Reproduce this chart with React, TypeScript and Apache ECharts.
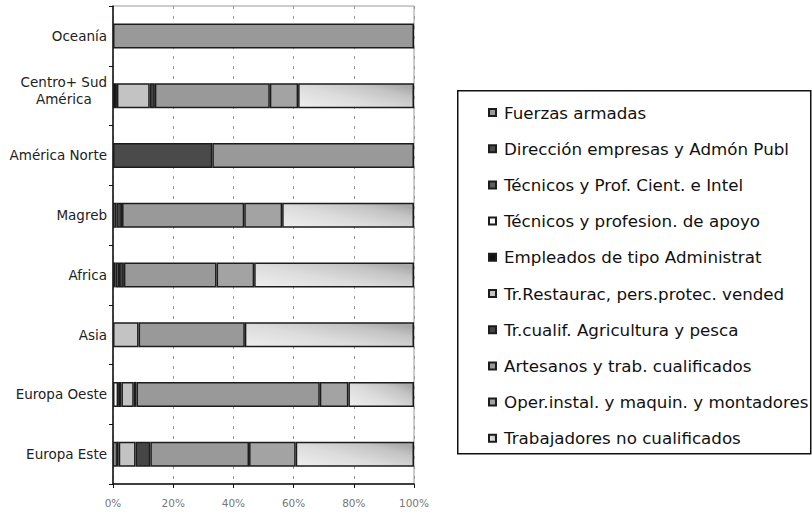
import React, { useEffect, useRef } from "react";
import * as echarts from "echarts";

// Regions, top to bottom
const categories = [
  "Oceanía",
  "Centro+ Sud\nAmérica",
  "América Norte",
  "Magreb",
  "Africa",
  "Asia",
  "Europa Oeste",
  "Europa Este",
];

// Occupation shares (%) per region, in the same order as categories
const fuerzasArmadas = [0, 0, 0, 0, 0, 0, 0, 0];
const direccion = [0, 0, 33, 0, 0, 0, 0, 0];
const tecnicosProf = [0, 0, 0, 0, 0.9, 0, 0, 0];
const tecnicosApoyo = [0, 0, 0, 0, 0, 0, 1.7, 1.3];
const empleados = [0, 1.3, 0, 0, 0, 0, 1.1, 0.6];
const restauracion = [0, 10.9, 0, 1.1, 1.1, 8.5, 4.1, 5.6];
const agricultura = [0, 1.7, 0, 1.9, 1.6, 0, 0.9, 4.9];
const artesanos = [100, 38.2, 67, 40.6, 30.8, 35.3, 60.9, 32.8];
const operadores = [0, 9.4, 0, 12.6, 12.5, 0, 9.5, 15.5];
const noCualificados = [0, 38.5, 0, 43.8, 53.1, 56.2, 21.8, 39.3];

const xTicks = [0, 20, 40, 60, 80, 100];

const seriesNames = [
  "Fuerzas armadas",
  "Dirección empresas y Admón Publ",
  "Técnicos y Prof. Cient. e Intel",
  "Técnicos y profesion. de apoyo",
  "Empleados de tipo Administrat",
  "Tr.Restaurac, pers.protec. vended",
  "Tr.cualif. Agricultura y pesca",
  "Artesanos y trab. cualificados",
  "Oper.instal. y maquin. y montadores",
  "Trabajadores no cualificados",
];

const seriesValues = [
  fuerzasArmadas,
  direccion,
  tecnicosProf,
  tecnicosApoyo,
  empleados,
  restauracion,
  agricultura,
  artesanos,
  operadores,
  noCualificados,
];

const gradientFill = new echarts.graphic.LinearGradient(0, 1, 1, 0.2, [
  { offset: 0, color: "#eeeeee" },
  { offset: 0.45, color: "#dcdcdc" },
  { offset: 0.8, color: "#c4c4c4" },
  { offset: 1, color: "#a9a9a9" },
]);

const seriesColors: any[] = [
  "#999999",
  "#4a4a4a",
  "#5e5e5e",
  "#f7f7f7",
  "#111111",
  "#c3c3c3",
  "#454545",
  "#999999",
  "#a3a3a3",
  gradientFill,
];

const FONT = "DejaVu Sans";

export default function App() {
  const ref = useRef<HTMLDivElement>(null);

  useEffect(() => {
    if (!ref.current) return;
    document.body.style.margin = "0";
    const chart = echarts.init(ref.current, null, { renderer: "svg" });

    const series = seriesNames.map((name, i) => ({
      name,
      type: "bar",
      stack: "total",
      barWidth: 25,
      data: seriesValues[i].map((v) => (v === 0 ? "-" : v)),
      itemStyle: {
        color: seriesColors[i],
        borderColor: "#1c1c1c",
        borderWidth: 1.5,
      },
    }));

    const labelStyle = {
      align: "center",
      fontFamily: FONT,
      fontSize: 13.5,
      color: "#222",
      lineHeight: 17,
    };

    chart.setOption({
      animation: false,
      backgroundColor: "#ffffff",
      grid: {
        left: 113,
        right: 398,
        top: 6,
        bottom: 28,
        show: true,
        borderColor: "#9a9a9a",
        borderWidth: 1,
        backgroundColor: "transparent",
      },
      xAxis: {
        type: "value",
        min: xTicks[0],
        max: xTicks[xTicks.length - 1],
        interval: 20,
        axisLine: { show: true, lineStyle: { color: "#111", width: 1.5 } },
        axisTick: { show: true, length: 4, lineStyle: { color: "#111" } },
        axisLabel: {
          formatter: "{value}%",
          fontFamily: FONT,
          fontSize: 10.5,
          color: "#777",
          margin: 13,
        },
        splitLine: {
          show: true,
          lineStyle: { color: "#9a9a9a", type: [3, 7], width: 1 },
        },
      },
      yAxis: {
        type: "category",
        inverse: true,
        data: categories,
        axisLine: { show: true, lineStyle: { color: "#111", width: 1.5 } },
        axisTick: { show: true, length: 4, lineStyle: { color: "#111" } },
        axisLabel: {
          margin: 6,
          fontFamily: FONT,
          fontSize: 13.5,
          color: "#222",
          lineHeight: 17,
          formatter: (val: string) => {
            const lines = val.split("\n");
            const body = lines.map((s) => `{c|${s}}`).join("\n");
            // two-line labels sit a little above the band centre
            return lines.length > 1 ? `${body}\n{e| }` : body;
          },
          rich: {
            c: labelStyle,
            e: { fontSize: 2, lineHeight: 10 },
          },
        },
        splitLine: { show: false },
      },
      legend: {
        orient: "vertical",
        left: 483,
        top: 98,
        itemWidth: 7,
        itemHeight: 7,
        itemGap: 17.2,
        icon: "rect",
        data: seriesNames,
        textStyle: {
          fontFamily: FONT,
          fontSize: 16.7,
          color: "#111",
          lineHeight: 19,
          padding: [0, 0, 0, 3],
        },
        selectedMode: false,
      },
      graphic: [
        {
          type: "rect",
          left: 457,
          top: 90,
          shape: { width: 353, height: 363 },
          style: { fill: "transparent", stroke: "#111", lineWidth: 1.5 },
          silent: true,
        },
      ],
      series,
    });

    return () => chart.dispose();
  }, []);

  return <div ref={ref} style={{ width: 812, height: 512 }} />;
}
